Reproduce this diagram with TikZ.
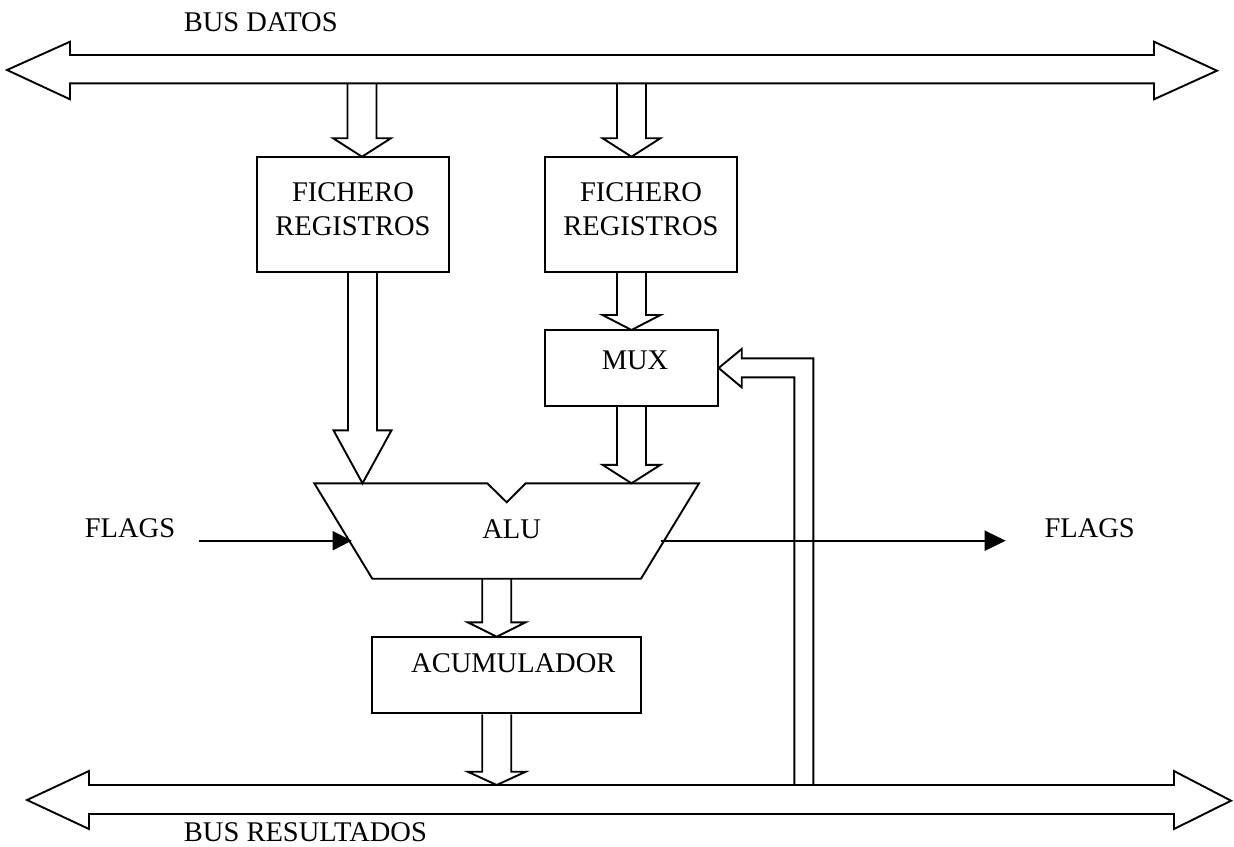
\documentclass[tikz,border=0pt]{standalone}
\usepackage{fontspec}
\setmainfont{Liberation Serif}
\usetikzlibrary{arrows.meta,calc}
\newcommand\fatdown[3]{%
  \draw let \p1=#1, \p2=#2 in
    (\x2-14.5pt,\y1) -- (\x2-14.5pt,\y2+#3pt) -- (\x2-29pt,\y2+#3pt) -- (\x2,\y2)
    -- (\x2+29pt,\y2+#3pt) -- (\x2+14.5pt,\y2+#3pt) -- (\x2+14.5pt,\y1);}
\begin{document}
\begin{tikzpicture}[x=1pt,y=-1pt,line width=1.9pt,line join=miter,
  box/.style={draw,rectangle,inner sep=0pt},
  lbl/.style={font=\fontsize{28.5}{34}\selectfont,inner sep=0pt,align=center},
  flagin/.style={-{Triangle[length=19pt,width=19pt]}},
  flagout/.style={-{Triangle[length=21pt,width=20pt]}}]
\useasboundingbox (0,0) rectangle (1234,846);

% buses
\draw (7,70) -- (70,41.7) -- (70,55) -- (1154,55) -- (1154,41.7) -- (1217,70.7)
  -- (1154,99.3) -- (1154,83.3) -- (70,83.3) -- (70,99.3) -- cycle;
\draw (27,800) -- (89,771) -- (89,785) -- (1174,785) -- (1174,771) -- (1231,800.7)
  -- (1174,829) -- (1174,814) -- (89,814) -- (89,829) -- cycle;
\coordinate (datab) at (0,83.3);
\coordinate (resb) at (0,785);

\node[lbl] (busd) at (260.7,22.7) {BUS DATOS};
\node[lbl,anchor=west] (busr) at (183,832) {BUS RESULTADOS};

% boxes
\node[box,minimum width=192pt,minimum height=115pt] (reg1) at (353,214.2) {};
\node[box,minimum width=192pt,minimum height=115pt] (reg2) at (641,214.2) {};
\node[box,minimum width=172.7pt,minimum height=76pt] (mux) at (631.35,368) {};
\node[box,minimum width=268.7pt,minimum height=76.6pt] (acc) at (506.65,675) {};

\node[lbl,anchor=north] (reg1t) at (353,181.7) {FICHERO\\REGISTROS};
\node[lbl,anchor=north] (reg2t) at (641,181.7) {FICHERO\\REGISTROS};
\node[lbl] (muxt) at (635,360.3) {MUX};
\node[lbl] (acct) at (513.3,663.5) {ACUMULADOR};

% ALU
\coordinate (alutl) at (314.3,483.3);
\coordinate (alutr) at (699,483.3);
\coordinate (alubr) at (641,578.7);
\coordinate (alubl) at (372.3,578.7);
\draw (alutl) -- (487.3,483.3) -- (506.7,502.3) -- (525.7,483.3) -- (alutr)
  -- (alubr) -- (alubl) -- cycle;
\node[lbl] (alu) at (511.7,529) {ALU};

% tips
\coordinate (t1) at (362,156.7);
\coordinate (t2) at (631.5,156.7);
\coordinate (t3) at (362.5,483.3);
\coordinate (t4) at (631.5,330);
\coordinate (t5) at (631.5,483.3);
\coordinate (t6) at (496.7,636.7);
\coordinate (t7) at (496.7,785);

\fatdown{(datab)}{(t1)}{18.5}
\fatdown{(datab)}{(t2)}{18.5}
\fatdown{(reg1.south)}{(t3)}{53}
\fatdown{(reg2.south)}{(t4)}{15}
\fatdown{(mux.south)}{(t5)}{18.5}
\fatdown{(alubl)}{(t6)}{14.4}
\fatdown{(acc.south)}{(t7)}{13.3}

% feedback to MUX
\draw (813.3,785) -- (813.3,358.3) -- (741.7,358.3) -- (741.7,349) -- (mux.east)
  -- (741.7,387.3) -- (741.7,377.3) -- (794.3,377.3) -- (794.3,785);

% flags
\node[lbl] (flagl) at (130,528) {FLAGS};
\node[lbl] (flagr) at (1089.7,528) {FLAGS};
\coordinate (fin) at (199.3,540.7);
\coordinate (finT) at (351.7,540.7);
\coordinate (fout) at (660.7,540.7);
\coordinate (foutT) at (1005.7,540.7);
\draw[flagin] (fin) -- (finT);
\draw[flagout] (fout) -- (foutT);
\end{tikzpicture}
\end{document}
